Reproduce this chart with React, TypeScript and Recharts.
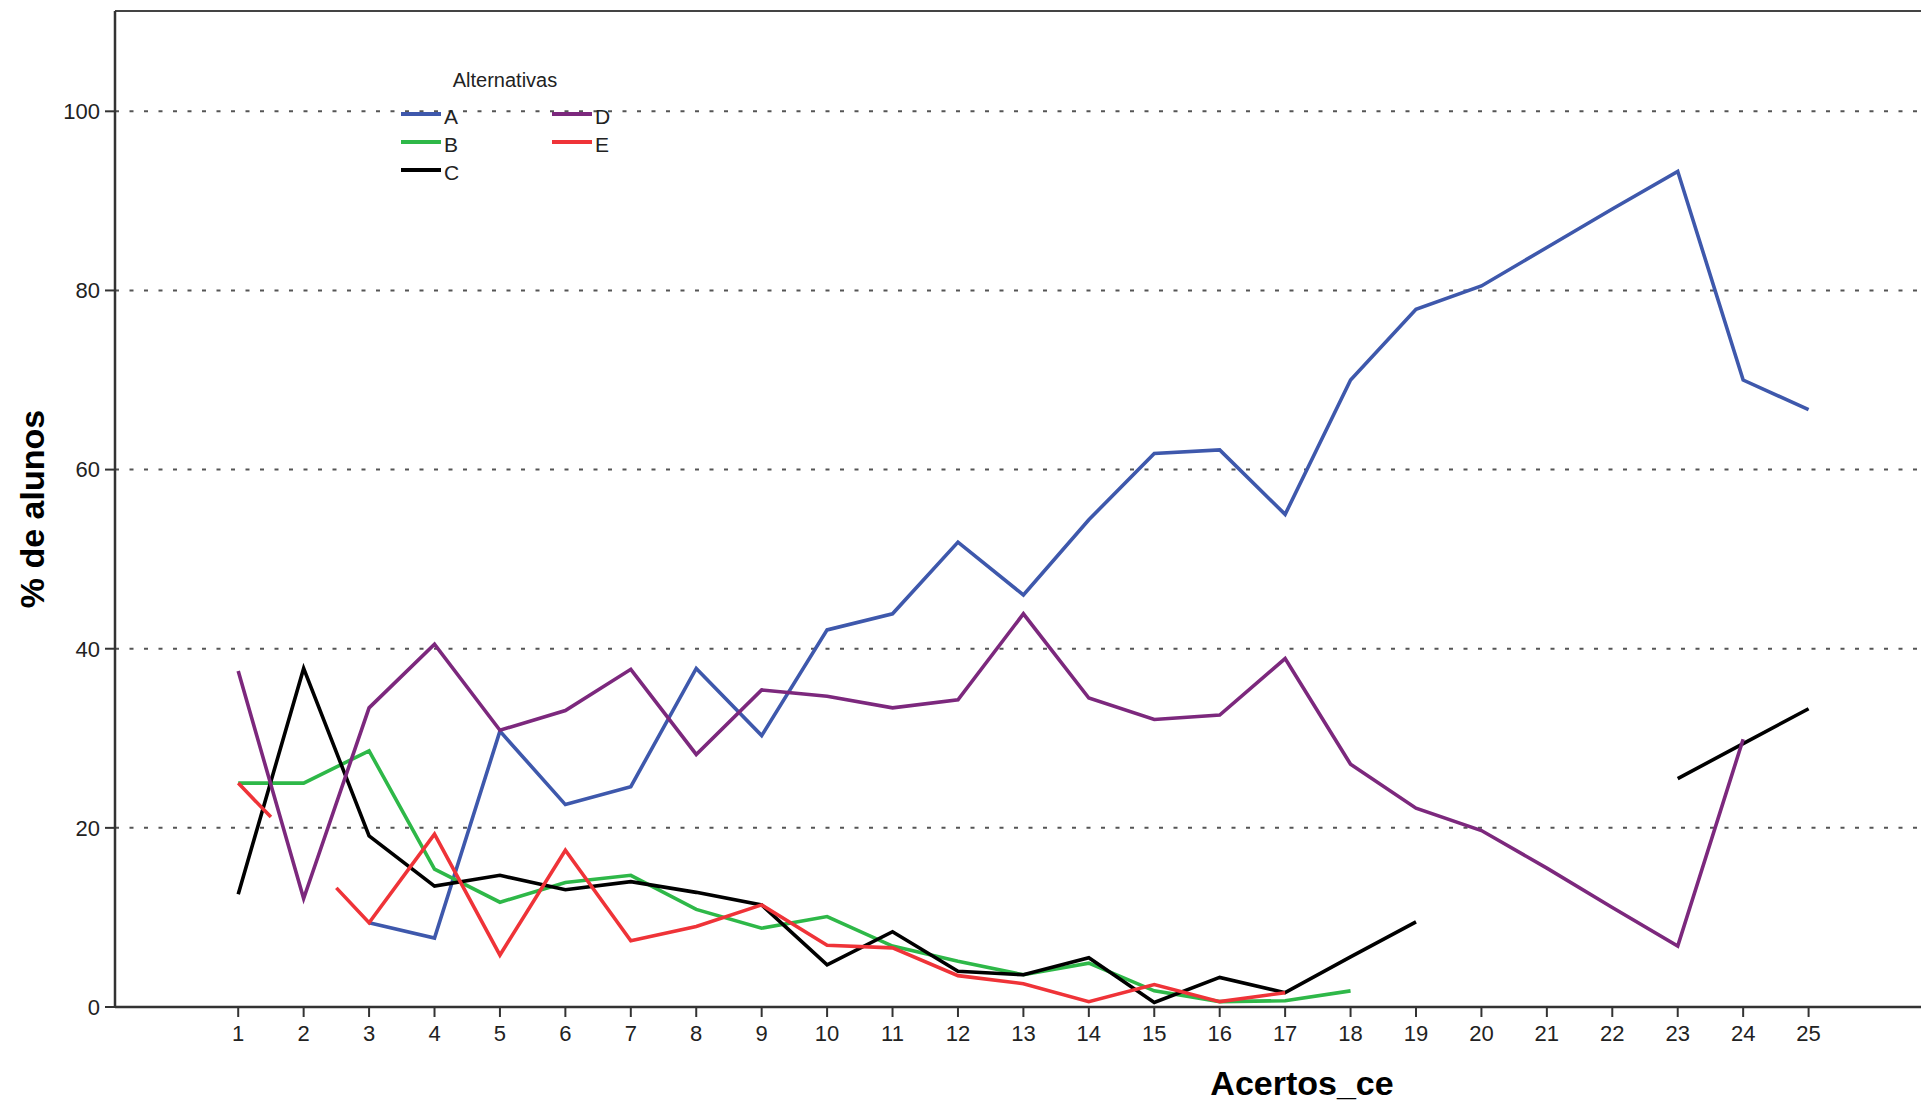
import React from 'react';
import { LineChart, Line, XAxis, YAxis, CartesianGrid, ReferenceLine, Label } from 'recharts';

// Acertos_ce (number of correct answers)
const ACERTOS = [1, 2, 3, 4, 5, 6, 7, 8, 9, 10, 11, 12, 13, 14, 15, 16, 17, 18, 19, 20, 21, 22, 23, 24, 25];
const Y_TICKS = [0, 20, 40, 60, 80, 100];

// % de alunos per alternative (null = no line)
const ALT_A = [null, null, 9.4, 7.7, 30.8, 22.6, 24.6, 37.8, 30.3, 42.1, 43.9, 51.9, 46.0, 54.4, 61.8, 62.2, 55.0, 70.0, 77.9, 80.5, 84.8, 89.1, 93.3, 70.0, 66.7];
const ALT_B = [25.0, 25.0, 28.6, 15.4, 11.7, 13.9, 14.7, 10.9, 8.8, 10.1, 6.8, 5.1, 3.6, 4.9, 1.8, 0.6, 0.7, 1.8, null, null, null, null, null, null, null];
const ALT_C = [12.6, 37.8, 19.1, 13.5, 14.7, 13.1, 14.0, 12.8, 11.4, 4.7, 8.4, 4.0, 3.6, 5.5, 0.5, 3.3, 1.6, 5.6, 9.5, null, null, null, 25.5, 29.4, 33.3];
const ALT_D = [37.5, 12.1, 33.4, 40.5, 30.9, 33.1, 37.7, 28.2, 35.4, 34.7, 33.4, 34.3, 43.9, 34.5, 32.1, 32.6, 38.9, 27.1, 22.2, 19.7, 15.5, 11.1, 6.8, 29.9, null];
const ALT_E = [25.0, null, 9.4, 19.3, 5.8, 17.5, 7.4, 9.0, 11.4, 6.9, 6.6, 3.5, 2.6, 0.6, 2.5, 0.6, 1.6, null, null, null, null, null, null, null, null];
// the short red stubs drawn around the gap at 2
const ALT_E_STUB_X = [1.5, 2.5];
const ALT_E_STUB_Y = [21.2, 13.3];

const SERIES = [
  { name: 'A', values: ALT_A, color: '#3e58ac' },
  { name: 'B', values: ALT_B, color: '#2eb848' },
  { name: 'C', values: ALT_C, color: '#000000' },
  { name: 'D', values: ALT_D, color: '#7c287d' },
  { name: 'E', values: ALT_E, color: '#ef3338' },
];

const X_DOMAIN: [number, number] = [-0.883, 26.718];
const Y_MAX = 111.2;
const FONT = "'Liberation Sans', Arial, sans-serif";

const buildRows = (name: string, values: (number | null)[]) => {
  const rows = ACERTOS.map((x, i) => ({ x, y: values[i] }));
  if (name === 'E') {
    ALT_E_STUB_X.forEach((x, i) => rows.push({ x, y: ALT_E_STUB_Y[i] }));
    rows.sort((a, b) => a.x - b.x);
  }
  return rows;
};

const Legend = () => {
  // two columns: A,B,C then D,E
  const cols = [SERIES.slice(0, 3), SERIES.slice(3)];
  const colX = [401, 552];
  const rowY = [114, 142, 170];
  return (
    <svg width={1921} height={1102} style={{ position: 'absolute', left: 0, top: 0, pointerEvents: 'none' }}>
      <text x={505} y={87} textAnchor="middle" fontFamily={FONT} fontSize={20} fill="#222">Alternativas</text>
      {cols.map((col, ci) =>
        col.map((s, ri) => (
          <g key={s.name}>
            <line x1={colX[ci]} x2={colX[ci] + 40} y1={rowY[ri]} y2={rowY[ri]} stroke={s.color} strokeWidth={4} />
            <text x={colX[ci] + 43} y={rowY[ri] + 10} fontFamily={FONT} fontSize={21} fill="#222">{s.name}</text>
          </g>
        ))
      )}
    </svg>
  );
};

export default function App() {
  return (
    <div style={{ position: 'absolute', left: 0, top: 0, width: 1921, height: 1102, background: '#fff' }}>
      <LineChart width={1921} height={1102} margin={{ top: 11, right: 0, left: 0, bottom: 0 }}>
        <CartesianGrid horizontal vertical={false} stroke="#555" strokeWidth={2} strokeDasharray="4 10.5" />
        <XAxis
          dataKey="x"
          type="number"
          domain={X_DOMAIN}
          ticks={ACERTOS}
          allowDataOverflow
          height={95}
          tickSize={10}
          tickMargin={8}
          interval={0}
          tick={{ fontFamily: FONT, fontSize: 22, fill: '#222' }}
          axisLine={{ stroke: '#333', strokeWidth: 2.5 }}
          tickLine={{ stroke: '#333', strokeWidth: 2 }}
        >
          <Label
            content={() => (
              <text x={1302} y={1095} textAnchor="middle" fontFamily={FONT} fontSize={34} fontWeight="bold" fill="#000">
                Acertos_ce
              </text>
            )}
          />
        </XAxis>
        <YAxis
          type="number"
          domain={[0, Y_MAX]}
          ticks={Y_TICKS}
          allowDataOverflow
          width={115}
          tickSize={10}
          tickMargin={5}
          tick={{ fontFamily: FONT, fontSize: 22, fill: '#222' }}
          axisLine={{ stroke: '#333', strokeWidth: 2.5 }}
          tickLine={{ stroke: '#333', strokeWidth: 2 }}
        >
          <Label
            content={() => (
              <text
                x={44}
                y={509}
                transform="rotate(-90, 44, 509)"
                textAnchor="middle"
                fontFamily={FONT}
                fontSize={34}
                fontWeight="bold"
                fill="#000"
              >
                % de alunos
              </text>
            )}
          />
        </YAxis>
        <ReferenceLine y={Y_MAX} stroke="#444" strokeWidth={2} />
        {SERIES.map((s) => (
          <Line
            key={s.name}
            data={buildRows(s.name, s.values)}
            dataKey="y"
            name={s.name}
            stroke={s.color}
            strokeWidth={3.6}
            dot={false}
            activeDot={false}
            isAnimationActive={false}
          />
        ))}
      </LineChart>
      <Legend />
    </div>
  );
}
